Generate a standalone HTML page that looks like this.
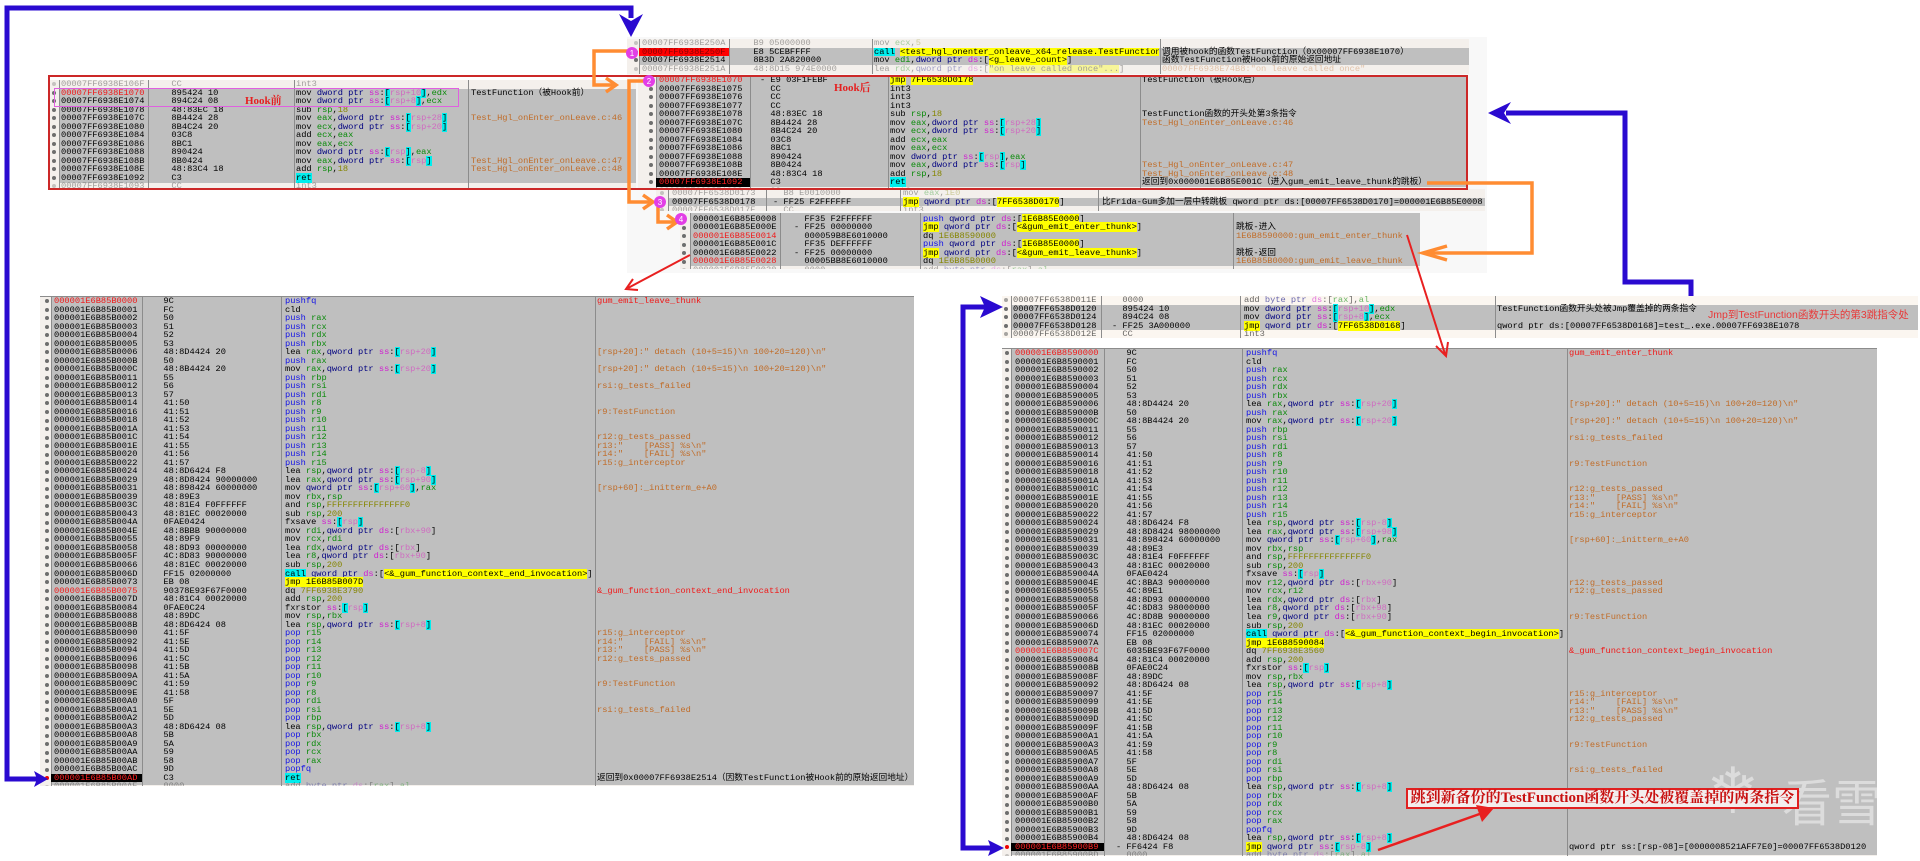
<!DOCTYPE html>
<html><head><meta charset="utf-8">
<style>
html,body{margin:0;padding:0}
body{width:1920px;height:861px;background:#fff;position:relative;overflow:hidden;font-family:"Liberation Mono","Noto Sans CJK SC",monospace;font-size:8.7px;color:#000}
.pn{position:absolute;overflow:hidden;box-sizing:border-box;background:#f4f0ec}
.bd{position:absolute;right:0;background:#bfbfbf}
.sp{position:absolute;top:0;bottom:0;width:1px;background:#8c8c8c}
.r{position:relative;height:8.53px;line-height:8.53px;white-space:pre}
.r::before{content:"";position:absolute;width:4px;height:4px;border-radius:50%;background:#6e6e6e;top:2.3px;left:var(--dl)}
.r.bp::before{background:#e00}
.r.f{opacity:.35}
.r>o,.r>t,.r>v,.r>h{position:absolute;top:0;display:block}
o.rd{color:#f01818}
h.o{color:#c06c28}
h.rd{color:#f01818}
k{color:#1212e6}
g{color:#0a8a0a}
d{color:#000080}
m{color:#d020d0}
z{background:#00eeee}
w{color:#cf6cc0}
n{color:#858500}
y{background:#ffff00}
e{background:#00eeee}
#L o{left:14px}#L t{left:113px}#L v{left:245px}#L h{left:557px}
#R2 o{left:13px}#R2 t{left:114px}#R2 v{left:244px}#R2 h{left:567px}
#R1 o{left:11px}#R1 t{left:110px}#R1 v{left:242px}#R1 h{left:495px}
#A o{left:15px}#A t{left:116px}#A v{left:247px;width:285px;overflow:hidden}#A h{left:535px}
#B o{left:11px}#B t{left:111px}#B v{left:246px}#B h{left:421px}
#C o{left:21px}#C t{left:122px}#C v{left:252px}#C h{left:504px}
#D o{left:16px}#D t{left:117px}#D v{left:247px}#D h{left:446px}
#E o{left:13px}#E t{left:114px}#E v{left:243px}#E h{left:556px}
.lbl{position:absolute;font-family:"Liberation Serif","Noto Serif CJK SC",serif;font-weight:bold;font-size:11px;color:#e52020;white-space:nowrap}
</style></head><body>

<div style="position:absolute;left:627px;top:37px;width:860px;height:236px;background:#f8f8f8"></div>

<!-- Panel A (top) -->
<div class=pn id=A style="left:627px;top:39px;width:842px;height:35px;--dl:7px">
<i class=bd style="left:12px;top:8.5px;height:17px"></i>
<i class=sp style="left:12px"></i><i class=sp style="left:102px"></i><i class=sp style="left:245px"></i><i class=sp style="left:533px"></i>
<div class="r f"><o>00007FF6938E250A</o><t>  B9 05000000</t><v>mov <g>ecx</g>,<n>5</n></v></div>
<div class=r><o style="left:12px;width:87px;padding-left:3px;background:#f00;color:#8a0000">00007FF6938E250F</o><t>  E8 5CEBFFFF</t><v><e>call</e> <y>&lt;test_hgl_onenter_onleave_x64_release.TestFunction&gt;</y></v><h>调用被hook的函数TestFunction（0x00007FF6938E1070）</h></div>
<div class=r><o>00007FF6938E2514</o><t>  8B3D 2A820000</t><v>mov <g>edi</g>,<d>dword ptr</d> <m>ds</m>:[<y>&lt;g_leave_count&gt;</y>]</v><h>函数TestFunction被Hook前的原始返回地址</h></div>
<div class="r f"><o>00007FF6938E251A</o><t>  48:8D15 974E0000</t><v>lea <g>rdx</g>,<d>qword ptr</d> <m>ds</m>:[<y>"on leave called once"...</y>]</v><h class=o>00007FF6938E74B8:"on leave called once"</h></div>
</div>

<!-- Panel B (Hook前) -->
<div class=pn id=B style="left:50px;top:80px;width:586px;height:109px;--dl:2px">
<i class=bd style="left:9px;top:8.5px;height:94px"></i>
<i class=sp style="left:9px"></i><i class=sp style="left:98px"></i><i class=sp style="left:244px"></i><i class=sp style="left:418px"></i>
<div class="r f"><o>00007FF6938E106F</o><t>  CC</t><v>int3</v></div>
<div class=r><o class=rd>00007FF6938E1070</o><t>  895424 10</t><v>mov <d>dword ptr</d> <m>ss</m>:<z>[</z><w>rsp+10</w><z>]</z>,<g>edx</g></v><h>TestFunction（被Hook前）</h></div>
<div class=r><o>00007FF6938E1074</o><t>  894C24 08</t><v>mov <d>dword ptr</d> <m>ss</m>:<z>[</z><w>rsp+8</w><z>]</z>,<g>ecx</g></v></div>
<div class=r><o>00007FF6938E1078</o><t>  48:83EC 18</t><v>sub <g>rsp</g>,<n>18</n></v></div>
<div class=r><o>00007FF6938E107C</o><t>  8B4424 28</t><v>mov <g>eax</g>,<d>dword ptr</d> <m>ss</m>:<z>[</z><w>rsp+28</w><z>]</z></v><h class=o>Test_Hgl_onEnter_onLeave.c:46</h></div>
<div class=r><o>00007FF6938E1080</o><t>  8B4C24 20</t><v>mov <g>ecx</g>,<d>dword ptr</d> <m>ss</m>:<z>[</z><w>rsp+20</w><z>]</z></v></div>
<div class=r><o>00007FF6938E1084</o><t>  03C8</t><v>add <g>ecx</g>,<g>eax</g></v></div>
<div class=r><o>00007FF6938E1086</o><t>  8BC1</t><v>mov <g>eax</g>,<g>ecx</g></v></div>
<div class=r><o>00007FF6938E1088</o><t>  890424</t><v>mov <d>dword ptr</d> <m>ss</m>:<z>[</z><w>rsp</w><z>]</z>,<g>eax</g></v></div>
<div class=r><o>00007FF6938E108B</o><t>  8B0424</t><v>mov <g>eax</g>,<d>dword ptr</d> <m>ss</m>:<z>[</z><w>rsp</w><z>]</z></v><h class=o>Test_Hgl_onEnter_onLeave.c:47</h></div>
<div class=r><o>00007FF6938E108E</o><t>  48:83C4 18</t><v>add <g>rsp</g>,<n>18</n></v><h class=o>Test_Hgl_onEnter_onLeave.c:48</h></div>
<div class=r><o>00007FF6938E1092</o><t>  C3</t><v><e>ret</e></v></div>
<div class="r f"><o>00007FF6938E1093</o><t>  CC</t><v>int3</v></div>
</div>

<!-- Panel C (Hook后) -->
<div class=pn id=C style="left:638px;top:76px;width:828px;height:113px;--dl:11px">
<i class=bd style="left:18px;top:0;height:111px"></i>
<i class=sp style="left:18px"></i><i class=sp style="left:112px"></i><i class=sp style="left:250px"></i><i class=sp style="left:502px"></i>
<div class=r><o class=rd>00007FF6938E1070</o><t>- E9 03F1FEBF</t><v><y>jmp</y> <y>7FF6538D0178</y></v><h>TestFunction（被Hook后）</h></div>
<div class=r><o>00007FF6938E1075</o><t>  CC</t><v>int3</v></div>
<div class=r><o>00007FF6938E1076</o><t>  CC</t><v>int3</v></div>
<div class=r><o>00007FF6938E1077</o><t>  CC</t><v>int3</v></div>
<div class=r><o>00007FF6938E1078</o><t>  48:83EC 18</t><v>sub <g>rsp</g>,<n>18</n></v><h>TestFunction函数的开头处第3条指令</h></div>
<div class=r><o>00007FF6938E107C</o><t>  8B4424 28</t><v>mov <g>eax</g>,<d>dword ptr</d> <m>ss</m>:<z>[</z><w>rsp+28</w><z>]</z></v><h class=o>Test_Hgl_onEnter_onLeave.c:46</h></div>
<div class=r><o>00007FF6938E1080</o><t>  8B4C24 20</t><v>mov <g>ecx</g>,<d>dword ptr</d> <m>ss</m>:<z>[</z><w>rsp+20</w><z>]</z></v></div>
<div class=r><o>00007FF6938E1084</o><t>  03C8</t><v>add <g>ecx</g>,<g>eax</g></v></div>
<div class=r><o>00007FF6938E1086</o><t>  8BC1</t><v>mov <g>eax</g>,<g>ecx</g></v></div>
<div class=r><o>00007FF6938E1088</o><t>  890424</t><v>mov <d>dword ptr</d> <m>ss</m>:<z>[</z><w>rsp</w><z>]</z>,<g>eax</g></v></div>
<div class=r><o>00007FF6938E108B</o><t>  8B0424</t><v>mov <g>eax</g>,<d>dword ptr</d> <m>ss</m>:<z>[</z><w>rsp</w><z>]</z></v><h class=o>Test_Hgl_onEnter_onLeave.c:47</h></div>
<div class=r><o>00007FF6938E108E</o><t>  48:83C4 18</t><v>add <g>rsp</g>,<n>18</n></v><h class=o>Test_Hgl_onEnter_onLeave.c:48</h></div>
<div class=r><o style="left:18px;width:91px;padding-left:3px;background:#000;color:#f22">00007FF6938E1092</o><t>  C3</t><v><e>ret</e></v><h>返回到0x000001E6B85E001C（进入gum_emit_leave_thunk的跳板）</h></div>
<div class="r f"><o>00007FF6938E1093</o><t>  CC</t><v>int3</v></div>
</div>

<!-- Panel D (3) -->
<div class=pn id=D style="left:656px;top:189px;width:829px;height:22px;--dl:4px">
<i class=bd style="left:12px;top:8.5px;height:8.6px"></i>
<i class=sp style="left:12px"></i><i class=sp style="left:110px"></i><i class=sp style="left:244px"></i><i class=sp style="left:442px"></i>
<div class="r f"><o>00007FF6538D0173</o><t>  B8 E0010000</t><v>mov <g>eax</g>,<n>1E0</n></v></div>
<div class=r><o>00007FF6538D0178</o><t>- FF25 F2FFFFFF</t><v><y>jmp</y> <d>qword ptr</d> <m>ds</m>:[<y>7FF6538D0170</y>]</v><h>比Frida-Gum多加一层中转跳板 qword ptr ds:[00007FF6538D0170]=000001E6B85E0008</h></div>
<div class="r f"><o>00007FF6538D017E</o><t>  CC</t><v>int3</v></div>
</div>

<!-- Panel E (4) -->
<div class=pn id=E style="left:680px;top:213px;width:740px;height:56px;padding-top:1.7px;--dl:2px">
<i class=bd style="left:10px;top:0;height:53px"></i>
<i class=sp style="left:10px"></i><i class=sp style="left:100px"></i><i class=sp style="left:240px"></i><i class=sp style="left:553px"></i>
<div class=r><o>000001E6B85E0008</o><t>  FF35 F2FFFFFF</t><v><k>push</k> <d>qword ptr</d> <m>ds</m>:[<y>1E6B85E0000</y>]</v></div>
<div class=r><o>000001E6B85E000E</o><t>- FF25 00000000</t><v><y>jmp</y> <d>qword ptr</d> <m>ds</m>:[<y>&lt;&amp;gum_emit_enter_thunk&gt;</y>]</v><h>跳板-进入</h></div>
<div class=r><o class=rd>000001E6B85E0014</o><t>  000059B8E6010000</t><v>dq <n>1E6B8590000</n></v><h class=o>1E6B8590000:gum_emit_enter_thunk</h></div>
<div class=r><o>000001E6B85E001C</o><t>  FF35 DEFFFFFF</t><v><k>push</k> <d>qword ptr</d> <m>ds</m>:[<y>1E6B85E0000</y>]</v></div>
<div class=r><o>000001E6B85E0022</o><t>- FF25 00000000</t><v><y>jmp</y> <d>qword ptr</d> <m>ds</m>:[<y>&lt;&amp;gum_emit_leave_thunk&gt;</y>]</v><h>跳板-返回</h></div>
<div class=r><o class=rd>000001E6B85E0028</o><t>  00005BB8E6010000</t><v>dq <n>1E6B85B0000</n></v><h class=o>1E6B85B0000:gum_emit_leave_thunk</h></div>
<div class="r f"><o>000001E6B85E0030</o><t>  0000</t><v>add <d>byte ptr</d> <m>ds</m>:[<g>rax</g>],<g>al</g></v></div>
</div>

<!-- Panel L (left big) -->
<div class=pn id=L style="left:40px;top:296px;width:874px;height:490px;--dl:5px;border-top:1px solid #8c8c8c">
<i class=bd style="left:11px;top:0;height:488px"></i>
<i class=sp style="left:11px"></i><i class=sp style="left:102px"></i><i class=sp style="left:241px"></i><i class=sp style="left:555px"></i>
<div class=r><o class=rd>000001E6B85B0000</o><t>  9C</t><v><k>pushfq</k></v><h class=rd>gum_emit_leave_thunk</h></div>
<div class=r><o>000001E6B85B0001</o><t>  FC</t><v>cld</v></div>
<div class=r><o>000001E6B85B0002</o><t>  50</t><v><k>push</k> <g>rax</g></v></div>
<div class=r><o>000001E6B85B0003</o><t>  51</t><v><k>push</k> <g>rcx</g></v></div>
<div class=r><o>000001E6B85B0004</o><t>  52</t><v><k>push</k> <g>rdx</g></v></div>
<div class=r><o>000001E6B85B0005</o><t>  53</t><v><k>push</k> <g>rbx</g></v></div>
<div class=r><o>000001E6B85B0006</o><t>  48:8D4424 20</t><v>lea <g>rax</g>,<d>qword ptr</d> <m>ss</m>:<z>[</z><w>rsp+20</w><z>]</z></v><h class=o>[rsp+20]:" detach (10+5=15)\n 100+20=120)\n"</h></div>
<div class=r><o>000001E6B85B000B</o><t>  50</t><v><k>push</k> <g>rax</g></v></div>
<div class=r><o>000001E6B85B000C</o><t>  48:8B4424 20</t><v>mov <g>rax</g>,<d>qword ptr</d> <m>ss</m>:<z>[</z><w>rsp+20</w><z>]</z></v><h class=o>[rsp+20]:" detach (10+5=15)\n 100+20=120)\n"</h></div>
<div class=r><o>000001E6B85B0011</o><t>  55</t><v><k>push</k> <g>rbp</g></v></div>
<div class=r><o>000001E6B85B0012</o><t>  56</t><v><k>push</k> <g>rsi</g></v><h class=o>rsi:g_tests_failed</h></div>
<div class=r><o>000001E6B85B0013</o><t>  57</t><v><k>push</k> <g>rdi</g></v></div>
<div class=r><o>000001E6B85B0014</o><t>  41:50</t><v><k>push</k> <g>r8</g></v></div>
<div class=r><o>000001E6B85B0016</o><t>  41:51</t><v><k>push</k> <g>r9</g></v><h class=o>r9:TestFunction</h></div>
<div class=r><o>000001E6B85B0018</o><t>  41:52</t><v><k>push</k> <g>r10</g></v></div>
<div class=r><o>000001E6B85B001A</o><t>  41:53</t><v><k>push</k> <g>r11</g></v></div>
<div class=r><o>000001E6B85B001C</o><t>  41:54</t><v><k>push</k> <g>r12</g></v><h class=o>r12:g_tests_passed</h></div>
<div class=r><o>000001E6B85B001E</o><t>  41:55</t><v><k>push</k> <g>r13</g></v><h class=o>r13:"    [PASS] %s\n"</h></div>
<div class=r><o>000001E6B85B0020</o><t>  41:56</t><v><k>push</k> <g>r14</g></v><h class=o>r14:"    [FAIL] %s\n"</h></div>
<div class=r><o>000001E6B85B0022</o><t>  41:57</t><v><k>push</k> <g>r15</g></v><h class=o>r15:g_interceptor</h></div>
<div class=r><o>000001E6B85B0024</o><t>  48:8D6424 F8</t><v>lea <g>rsp</g>,<d>qword ptr</d> <m>ss</m>:<z>[</z><w>rsp-8</w><z>]</z></v></div>
<div class=r><o>000001E6B85B0029</o><t>  48:8D8424 90000000</t><v>lea <g>rax</g>,<d>qword ptr</d> <m>ss</m>:<z>[</z><w>rsp+90</w><z>]</z></v></div>
<div class=r><o>000001E6B85B0031</o><t>  48:898424 60000000</t><v>mov <d>qword ptr</d> <m>ss</m>:<z>[</z><w>rsp+60</w><z>]</z>,<g>rax</g></v><h class=o>[rsp+60]:_initterm_e+A0</h></div>
<div class=r><o>000001E6B85B0039</o><t>  48:89E3</t><v>mov <g>rbx</g>,<g>rsp</g></v></div>
<div class=r><o>000001E6B85B003C</o><t>  48:81E4 F0FFFFFF</t><v>and <g>rsp</g>,<n>FFFFFFFFFFFFFFF0</n></v></div>
<div class=r><o>000001E6B85B0043</o><t>  48:81EC 00020000</t><v>sub <g>rsp</g>,<n>200</n></v></div>
<div class=r><o>000001E6B85B004A</o><t>  0FAE0424</t><v>fxsave <m>ss</m>:<z>[</z><w>rsp</w><z>]</z></v></div>
<div class=r><o>000001E6B85B004E</o><t>  48:8BBB 90000000</t><v>mov <g>rdi</g>,<d>qword ptr</d> <m>ds</m>:[<w>rbx+90</w>]</v></div>
<div class=r><o>000001E6B85B0055</o><t>  48:89F9</t><v>mov <g>rcx</g>,<g>rdi</g></v></div>
<div class=r><o>000001E6B85B0058</o><t>  48:8D93 00000000</t><v>lea <g>rdx</g>,<d>qword ptr</d> <m>ds</m>:[<w>rbx</w>]</v></div>
<div class=r><o>000001E6B85B005F</o><t>  4C:8D83 90000000</t><v>lea <g>r8</g>,<d>qword ptr</d> <m>ds</m>:[<w>rbx+90</w>]</v></div>
<div class=r><o>000001E6B85B0066</o><t>  48:81EC 00020000</t><v>sub <g>rsp</g>,<n>200</n></v></div>
<div class=r><o>000001E6B85B006D</o><t>  FF15 02000000</t><v><e>call</e> <d>qword ptr</d> <m>ds</m>:[<y>&lt;&amp;_gum_function_context_end_invocation&gt;</y>]</v></div>
<div class=r><o>000001E6B85B0073</o><t>  EB 08</t><v><y>jmp 1E6B85B007D</y></v></div>
<div class=r><o class=rd>000001E6B85B0075</o><t>  90378E93F67F0000</t><v>dq <n>7FF6938E3790</n></v><h class=rd>&amp;_gum_function_context_end_invocation</h></div>
<div class=r><o>000001E6B85B007D</o><t>  48:81C4 00020000</t><v>add <g>rsp</g>,<n>200</n></v></div>
<div class=r><o>000001E6B85B0084</o><t>  0FAE0C24</t><v>fxrstor <m>ss</m>:<z>[</z><w>rsp</w><z>]</z></v></div>
<div class=r><o>000001E6B85B0088</o><t>  48:89DC</t><v>mov <g>rsp</g>,<g>rbx</g></v></div>
<div class=r><o>000001E6B85B008B</o><t>  48:8D6424 08</t><v>lea <g>rsp</g>,<d>qword ptr</d> <m>ss</m>:<z>[</z><w>rsp+8</w><z>]</z></v></div>
<div class=r><o>000001E6B85B0090</o><t>  41:5F</t><v><k>pop</k> <g>r15</g></v><h class=o>r15:g_interceptor</h></div>
<div class=r><o>000001E6B85B0092</o><t>  41:5E</t><v><k>pop</k> <g>r14</g></v><h class=o>r14:"    [FAIL] %s\n"</h></div>
<div class=r><o>000001E6B85B0094</o><t>  41:5D</t><v><k>pop</k> <g>r13</g></v><h class=o>r13:"    [PASS] %s\n"</h></div>
<div class=r><o>000001E6B85B0096</o><t>  41:5C</t><v><k>pop</k> <g>r12</g></v><h class=o>r12:g_tests_passed</h></div>
<div class=r><o>000001E6B85B0098</o><t>  41:5B</t><v><k>pop</k> <g>r11</g></v></div>
<div class=r><o>000001E6B85B009A</o><t>  41:5A</t><v><k>pop</k> <g>r10</g></v></div>
<div class=r><o>000001E6B85B009C</o><t>  41:59</t><v><k>pop</k> <g>r9</g></v><h class=o>r9:TestFunction</h></div>
<div class=r><o>000001E6B85B009E</o><t>  41:58</t><v><k>pop</k> <g>r8</g></v></div>
<div class=r><o>000001E6B85B00A0</o><t>  5F</t><v><k>pop</k> <g>rdi</g></v></div>
<div class=r><o>000001E6B85B00A1</o><t>  5E</t><v><k>pop</k> <g>rsi</g></v><h class=o>rsi:g_tests_failed</h></div>
<div class=r><o>000001E6B85B00A2</o><t>  5D</t><v><k>pop</k> <g>rbp</g></v></div>
<div class=r><o>000001E6B85B00A3</o><t>  48:8D6424 08</t><v>lea <g>rsp</g>,<d>qword ptr</d> <m>ss</m>:<z>[</z><w>rsp+8</w><z>]</z></v></div>
<div class=r><o>000001E6B85B00A8</o><t>  5B</t><v><k>pop</k> <g>rbx</g></v></div>
<div class=r><o>000001E6B85B00A9</o><t>  5A</t><v><k>pop</k> <g>rdx</g></v></div>
<div class=r><o>000001E6B85B00AA</o><t>  59</t><v><k>pop</k> <g>rcx</g></v></div>
<div class=r><o>000001E6B85B00AB</o><t>  58</t><v><k>pop</k> <g>rax</g></v></div>
<div class=r><o>000001E6B85B00AC</o><t>  9D</t><v><k>popfq</k></v></div>
<div class="r bp"><o style="left:11px;width:88px;padding-left:3px;background:#000;color:#f22">000001E6B85B00AD</o><t>  C3</t><v><e>ret</e></v><h>返回到0x00007FF6938E2514（因数TestFunction被Hook前的原始返回地址）</h></div>
<div class="r f"><o>000001E6B85B00AE</o><t>  0000</t><v>add <d>byte ptr</d> <m>ds</m>:[<g>rax</g>],<g>al</g></v></div>
</div>

<!-- Panel R1 (right upper) -->
<div class=pn id=R1 style="left:1002px;top:296px;width:916px;height:42px;--dl:2px;background:#fbf6f0">
<i class=bd style="left:9px;top:8.5px;height:25.6px"></i>
<i class=sp style="left:9px"></i><i class=sp style="left:99px"></i><i class=sp style="left:238px"></i><i class=sp style="left:493px"></i>
<div class=r style="opacity:.6"><o>00007FF6538D011E</o><t>  0000</t><v>add <d>byte ptr</d> <m>ds</m>:[<g>rax</g>],<g>al</g></v></div>
<div class=r><o>00007FF6538D0120</o><t>  895424 10</t><v>mov <d>dword ptr</d> <m>ss</m>:<z>[</z><w>rsp+10</w><z>]</z>,<g>edx</g></v><h>TestFunction函数开头处被Jmp覆盖掉的两条指令</h></div>
<div class=r><o>00007FF6538D0124</o><t>  894C24 08</t><v>mov <d>dword ptr</d> <m>ss</m>:<z>[</z><w>rsp+8</w><z>]</z>,<g>ecx</g></v></div>
<div class=r><o>00007FF6538D0128</o><t>- FF25 3A000000</t><v><y>jmp</y> <d>qword ptr</d> <m>ds</m>:[<y>7FF6538D0168</y>]</v><h>qword ptr ds:[00007FF6538D0168]=test_.exe.00007FF6938E1078</h></div>
<div class=r style="opacity:.6"><o>00007FF6538D012E</o><t>  CC</t><v>int3</v></div>
</div>

<!-- Panel R2 (right lower) -->
<div class=pn id=R2 style="left:1002px;top:348px;width:875px;height:508px;--dl:3px;border-top:1px solid #8c8c8c">
<i class=bd style="left:9px;top:0;height:506px"></i>
<i class=sp style="left:9px"></i><i class=sp style="left:102px"></i><i class=sp style="left:240px"></i><i class=sp style="left:565px"></i>
<div class=r><o class=rd>000001E6B8590000</o><t>  9C</t><v><k>pushfq</k></v><h class=rd>gum_emit_enter_thunk</h></div>
<div class=r><o>000001E6B8590001</o><t>  FC</t><v>cld</v></div>
<div class=r><o>000001E6B8590002</o><t>  50</t><v><k>push</k> <g>rax</g></v></div>
<div class=r><o>000001E6B8590003</o><t>  51</t><v><k>push</k> <g>rcx</g></v></div>
<div class=r><o>000001E6B8590004</o><t>  52</t><v><k>push</k> <g>rdx</g></v></div>
<div class=r><o>000001E6B8590005</o><t>  53</t><v><k>push</k> <g>rbx</g></v></div>
<div class=r><o>000001E6B8590006</o><t>  48:8D4424 20</t><v>lea <g>rax</g>,<d>qword ptr</d> <m>ss</m>:<z>[</z><w>rsp+20</w><z>]</z></v><h class=o>[rsp+20]:" detach (10+5=15)\n 100+20=120)\n"</h></div>
<div class=r><o>000001E6B859000B</o><t>  50</t><v><k>push</k> <g>rax</g></v></div>
<div class=r><o>000001E6B859000C</o><t>  48:8B4424 20</t><v>mov <g>rax</g>,<d>qword ptr</d> <m>ss</m>:<z>[</z><w>rsp+20</w><z>]</z></v><h class=o>[rsp+20]:" detach (10+5=15)\n 100+20=120)\n"</h></div>
<div class=r><o>000001E6B8590011</o><t>  55</t><v><k>push</k> <g>rbp</g></v></div>
<div class=r><o>000001E6B8590012</o><t>  56</t><v><k>push</k> <g>rsi</g></v><h class=o>rsi:g_tests_failed</h></div>
<div class=r><o>000001E6B8590013</o><t>  57</t><v><k>push</k> <g>rdi</g></v></div>
<div class=r><o>000001E6B8590014</o><t>  41:50</t><v><k>push</k> <g>r8</g></v></div>
<div class=r><o>000001E6B8590016</o><t>  41:51</t><v><k>push</k> <g>r9</g></v><h class=o>r9:TestFunction</h></div>
<div class=r><o>000001E6B8590018</o><t>  41:52</t><v><k>push</k> <g>r10</g></v></div>
<div class=r><o>000001E6B859001A</o><t>  41:53</t><v><k>push</k> <g>r11</g></v></div>
<div class=r><o>000001E6B859001C</o><t>  41:54</t><v><k>push</k> <g>r12</g></v><h class=o>r12:g_tests_passed</h></div>
<div class=r><o>000001E6B859001E</o><t>  41:55</t><v><k>push</k> <g>r13</g></v><h class=o>r13:"    [PASS] %s\n"</h></div>
<div class=r><o>000001E6B8590020</o><t>  41:56</t><v><k>push</k> <g>r14</g></v><h class=o>r14:"    [FAIL] %s\n"</h></div>
<div class=r><o>000001E6B8590022</o><t>  41:57</t><v><k>push</k> <g>r15</g></v><h class=o>r15:g_interceptor</h></div>
<div class=r><o>000001E6B8590024</o><t>  48:8D6424 F8</t><v>lea <g>rsp</g>,<d>qword ptr</d> <m>ss</m>:<z>[</z><w>rsp-8</w><z>]</z></v></div>
<div class=r><o>000001E6B8590029</o><t>  48:8D8424 98000000</t><v>lea <g>rax</g>,<d>qword ptr</d> <m>ss</m>:<z>[</z><w>rsp+98</w><z>]</z></v></div>
<div class=r><o>000001E6B8590031</o><t>  48:898424 60000000</t><v>mov <d>qword ptr</d> <m>ss</m>:<z>[</z><w>rsp+60</w><z>]</z>,<g>rax</g></v><h class=o>[rsp+60]:_initterm_e+A0</h></div>
<div class=r><o>000001E6B8590039</o><t>  48:89E3</t><v>mov <g>rbx</g>,<g>rsp</g></v></div>
<div class=r><o>000001E6B859003C</o><t>  48:81E4 F0FFFFFF</t><v>and <g>rsp</g>,<n>FFFFFFFFFFFFFFF0</n></v></div>
<div class=r><o>000001E6B8590043</o><t>  48:81EC 00020000</t><v>sub <g>rsp</g>,<n>200</n></v></div>
<div class=r><o>000001E6B859004A</o><t>  0FAE0424</t><v>fxsave <m>ss</m>:<z>[</z><w>rsp</w><z>]</z></v></div>
<div class=r><o>000001E6B859004E</o><t>  4C:8BA3 90000000</t><v>mov <g>r12</g>,<d>qword ptr</d> <m>ds</m>:[<w>rbx+90</w>]</v><h class=o>r12:g_tests_passed</h></div>
<div class=r><o>000001E6B8590055</o><t>  4C:89E1</t><v>mov <g>rcx</g>,<g>r12</g></v><h class=o>r12:g_tests_passed</h></div>
<div class=r><o>000001E6B8590058</o><t>  48:8D93 00000000</t><v>lea <g>rdx</g>,<d>qword ptr</d> <m>ds</m>:[<w>rbx</w>]</v></div>
<div class=r><o>000001E6B859005F</o><t>  4C:8D83 98000000</t><v>lea <g>r8</g>,<d>qword ptr</d> <m>ds</m>:[<w>rbx+98</w>]</v></div>
<div class=r><o>000001E6B8590066</o><t>  4C:8D8B 90000000</t><v>lea <g>r9</g>,<d>qword ptr</d> <m>ds</m>:[<w>rbx+90</w>]</v><h class=o>r9:TestFunction</h></div>
<div class=r><o>000001E6B859006D</o><t>  48:81EC 00020000</t><v>sub <g>rsp</g>,<n>200</n></v></div>
<div class=r><o>000001E6B8590074</o><t>  FF15 02000000</t><v><e>call</e> <d>qword ptr</d> <m>ds</m>:[<y>&lt;&amp;_gum_function_context_begin_invocation&gt;</y>]</v></div>
<div class=r><o>000001E6B859007A</o><t>  EB 08</t><v><y>jmp 1E6B8590084</y></v></div>
<div class=r><o class=rd>000001E6B859007C</o><t>  6035BE93F67F0000</t><v>dq <n>7FF6938E3560</n></v><h class=rd>&amp;_gum_function_context_begin_invocation</h></div>
<div class=r><o>000001E6B8590084</o><t>  48:81C4 00020000</t><v>add <g>rsp</g>,<n>200</n></v></div>
<div class=r><o>000001E6B859008B</o><t>  0FAE0C24</t><v>fxrstor <m>ss</m>:<z>[</z><w>rsp</w><z>]</z></v></div>
<div class=r><o>000001E6B859008F</o><t>  48:89DC</t><v>mov <g>rsp</g>,<g>rbx</g></v></div>
<div class=r><o>000001E6B8590092</o><t>  48:8D6424 08</t><v>lea <g>rsp</g>,<d>qword ptr</d> <m>ss</m>:<z>[</z><w>rsp+8</w><z>]</z></v></div>
<div class=r><o>000001E6B8590097</o><t>  41:5F</t><v><k>pop</k> <g>r15</g></v><h class=o>r15:g_interceptor</h></div>
<div class=r><o>000001E6B8590099</o><t>  41:5E</t><v><k>pop</k> <g>r14</g></v><h class=o>r14:"    [FAIL] %s\n"</h></div>
<div class=r><o>000001E6B859009B</o><t>  41:5D</t><v><k>pop</k> <g>r13</g></v><h class=o>r13:"    [PASS] %s\n"</h></div>
<div class=r><o>000001E6B859009D</o><t>  41:5C</t><v><k>pop</k> <g>r12</g></v><h class=o>r12:g_tests_passed</h></div>
<div class=r><o>000001E6B859009F</o><t>  41:5B</t><v><k>pop</k> <g>r11</g></v></div>
<div class=r><o>000001E6B85900A1</o><t>  41:5A</t><v><k>pop</k> <g>r10</g></v></div>
<div class=r><o>000001E6B85900A3</o><t>  41:59</t><v><k>pop</k> <g>r9</g></v><h class=o>r9:TestFunction</h></div>
<div class=r><o>000001E6B85900A5</o><t>  41:58</t><v><k>pop</k> <g>r8</g></v></div>
<div class=r><o>000001E6B85900A7</o><t>  5F</t><v><k>pop</k> <g>rdi</g></v></div>
<div class=r><o>000001E6B85900A8</o><t>  5E</t><v><k>pop</k> <g>rsi</g></v><h class=o>rsi:g_tests_failed</h></div>
<div class=r><o>000001E6B85900A9</o><t>  5D</t><v><k>pop</k> <g>rbp</g></v></div>
<div class=r><o>000001E6B85900AA</o><t>  48:8D6424 08</t><v>lea <g>rsp</g>,<d>qword ptr</d> <m>ss</m>:<z>[</z><w>rsp+8</w><z>]</z></v></div>
<div class=r><o>000001E6B85900AF</o><t>  5B</t><v><k>pop</k> <g>rbx</g></v></div>
<div class=r><o>000001E6B85900B0</o><t>  5A</t><v><k>pop</k> <g>rdx</g></v></div>
<div class=r><o>000001E6B85900B1</o><t>  59</t><v><k>pop</k> <g>rcx</g></v></div>
<div class=r><o>000001E6B85900B2</o><t>  58</t><v><k>pop</k> <g>rax</g></v></div>
<div class=r><o>000001E6B85900B3</o><t>  9D</t><v><k>popfq</k></v></div>
<div class=r><o>000001E6B85900B4</o><t>  48:8D6424 08</t><v>lea <g>rsp</g>,<d>qword ptr</d> <m>ss</m>:<z>[</z><w>rsp+8</w><z>]</z></v></div>
<div class="r bp"><o style="left:9px;width:89px;padding-left:4px;background:#000;color:#f22">000001E6B85900B9</o><t>- FF6424 F8</t><v><y>jmp</y> <d>qword ptr</d> <m>ss</m>:<z>[</z><w>rsp-8</w><z>]</z></v><h>qword ptr ss:[rsp-08]=[0000008521AFF7E0]=00007FF6538D0120</h></div>
<div class="r f"><o>000001E6B85900BD</o><t>  0000</t><v>add <d>byte ptr</d> <m>ds</m>:[<g>rax</g>],<g>al</g></v></div>
</div>

<!-- labels -->
<div class=lbl style="left:245px;top:92px">Hook前</div>
<div class=lbl style="left:834px;top:79px">Hook后</div>
<div style="position:absolute;left:1708px;top:307px;font-family:'Liberation Sans','Noto Sans CJK SC',sans-serif;font-size:10.5px;color:#e83838;white-space:nowrap">Jmp到TestFunction函数开头的第3跳指令处</div>

<!-- pink rect -->
<div style="position:absolute;left:54px;top:88px;width:405px;height:19px;border:1px solid #e060e0;box-sizing:border-box"></div>
<!-- red big rect -->
<div style="position:absolute;left:48px;top:75px;width:1420px;height:115px;border:2px solid #cc2828;box-sizing:border-box"></div>

<!-- watermark -->
<div style="position:absolute;left:1706px;top:752px;font-family:'DejaVu Sans',sans-serif;font-size:64px;line-height:80px;color:rgba(255,255,255,.45)">❄</div>
<div style="position:absolute;left:1782px;top:770px;font-family:'Noto Sans CJK SC',sans-serif;font-size:50px;line-height:60px;color:rgba(255,255,255,.45)">看雪</div>

<!-- red annotation box -->
<div style="position:absolute;left:1406px;top:788px;width:393px;height:21px;border:2.5px solid #e02020;box-sizing:border-box;background:#f3eded;font-family:'Liberation Serif','Noto Serif CJK SC',serif;font-weight:bold;font-size:15px;line-height:16px;color:#c81010;text-align:center;white-space:nowrap">跳到新备份的TestFunction函数开头处被覆盖掉的两条指令</div>

<svg width="1920" height="861" style="position:absolute;left:0;top:0" xmlns="http://www.w3.org/2000/svg">
<g fill="none" stroke="#2a0ad0" stroke-width="5">
<polyline points="40,779 7,779 7,8 631,8 631,18"/>
<polyline points="1691,296 1691,282 1625,282 1625,113 1506,113"/>
<polyline points="988,307 963,307 963,848 994,848"/>
</g>
<g fill="#2a0ad0">
<polygon points="619,14 631,21 643,14 631,37"/>
<polygon points="1488,113 1511,102 1504,113 1511,124"/>
<polygon points="1003,307 980,296 985,307 980,318"/>
<polygon points="1004,848 988,840 991,848 988,856"/>
<polygon points="48,779 34,771 37,779 34,787"/>
</g>
<g fill="none" stroke="#ff8c32" stroke-width="3.5">
<polyline points="628,51 594,51 594,85 614,85"/>
<polyline points="606,78 616,85 606,92"/>
<polyline points="644,81 629,81 629,202 650,202"/>
<polyline points="643,195 653,202 643,209"/>
<polyline points="658,207 658,222 674,222"/>
<polyline points="667,215 677,222 667,229"/>
<polyline points="1427,183 1532,183 1532,253 1424,253"/>
<polyline points="1447,246 1423,253 1447,260"/>
</g>
<g stroke="#e82020" stroke-width="2" fill="none">
<line x1="690" y1="255" x2="628" y2="288"/>
<polyline points="633,279 626,289 638,290"/>
<line x1="1407" y1="235" x2="1445" y2="354"/>
<polyline points="1436,346 1446,356 1448,342"/>
<line x1="1378" y1="850" x2="1488" y2="811" stroke-width="2.5"/>
</g>
<polygon points="1494,808 1476,805 1482,822" fill="#e82020"/>
<g fill="#e23ee6">
<circle cx="632" cy="53" r="6"/><circle cx="649" cy="81" r="6"/><circle cx="660" cy="202" r="6"/><circle cx="681" cy="219" r="6"/>
</g>
<g fill="#fff" font-family="Liberation Sans, sans-serif" font-size="8" text-anchor="middle">
<text x="632" y="56">1</text><text x="649" y="84">2</text><text x="660" y="205">3</text><text x="681" y="222">4</text>
</g>
</svg>
</body></html>
